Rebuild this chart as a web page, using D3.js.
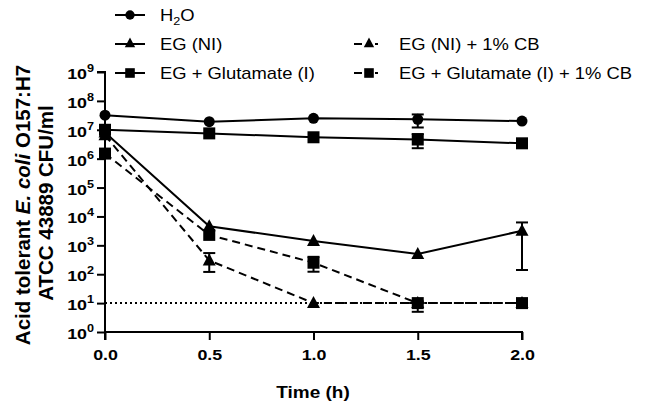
<!DOCTYPE html>
<html><head><meta charset="utf-8">
<script src="https://cdn.jsdelivr.net/npm/d3@7"></script>
<style>body{margin:0;background:#fff}svg{display:block}text{font-family:"Liberation Sans",Arial,sans-serif;fill:#000}</style>
</head><body>
<script>
const times = [0, 0.5, 1.0, 1.5, 2.0];
const yTickExps = [0,1,2,3,4,5,6,7,8,9];
const xTickLabels = ["0.0","0.5","1.0","1.5","2.0"];
const h2o      = [3.2e7, 1.9e7, 2.5e7, 2.3e7, 2.0e7];
const h2oErr   = [null, null, null, [1.2e7, 3.4e7], null];
const egNI     = [8e6, 4.6e3, 1.4e3, 500, 3.2e3];
const egNIErr  = [null, null, null, null, [140, 6.2e3]];
const egGlu    = [1.0e7, 7.5e6, 5.5e6, 4.6e6, 3.4e6];
const egGluErr = [null, null, null, [2.3e6, 7.1e6], null];
const egNICB   = [6.5e6, 300, 10, 10, 10];
const egNICBErr= [null, [120, 540], null, null, null];
const egGluCB  = [1.5e6, 2.3e3, 250, 10, 10];
const egGluCBErr=[null, null, [122, 400], [5, 11.5], null];
const detectionLimit = 10;

const series = [
  {name:"H2O", vals:h2o, err:h2oErr, shape:"circle", dash:null},
  {name:"EG + Glutamate (I)", vals:egGlu, err:egGluErr, shape:"square", dash:null},
  {name:"EG (NI)", vals:egNI, err:egNIErr, shape:"triangle", dash:null},
  {name:"EG (NI) + 1% CB", vals:egNICB, err:egNICBErr, shape:"triangle", dash:"8,5"},
  {name:"EG + Glutamate (I) + 1% CB", vals:egGluCB, err:egGluCBErr, shape:"square", dash:"8,5"}
];

const W=645,H=412, SX=1.15;
const svg=d3.select("body").append("svg").attr("width",W).attr("height",H);
const x=d3.scaleLinear().domain([0,2]).range([105,522]);
const y=d3.scaleLog().domain([1,1e9]).range([332,72]);

function stretchedText(parent,px,py,anchor,size,weight){
  return parent.append("g").attr("transform",`translate(${px},${py}) scale(${SX},1)`)
    .append("text").attr("x",0).attr("y",0).attr("text-anchor",anchor)
    .attr("font-size",size).attr("font-weight",weight||"normal");
}

function drawMarker(g,shape,cx,cy){
  if(shape==="circle") g.append("circle").attr("cx",cx).attr("cy",cy).attr("r",5.5).attr("fill","#000");
  else if(shape==="square") g.append("rect").attr("x",cx-6).attr("y",cy-6).attr("width",12).attr("height",12).attr("fill","#000");
  else g.append("path").attr("d",`M${cx},${cy-7}L${cx+6.5},${cy+5}L${cx-6.5},${cy+5}Z`).attr("fill","#000");
}

// detection limit dotted line
svg.append("line").attr("x1",x(0)).attr("x2",x(2)).attr("y1",y(detectionLimit)).attr("y2",y(detectionLimit))
  .attr("stroke","#000").attr("stroke-width",2).attr("stroke-dasharray","2,3");

const line=d3.line().x((d,i)=>x(times[i])).y(d=>y(d));
series.forEach(s=>{
  svg.append("path").attr("d",line(s.vals)).attr("fill","none").attr("stroke","#000").attr("stroke-width",2)
    .attr("stroke-dasharray",s.dash);
  s.err.forEach((e,i)=>{
    if(!e) return;
    const cx=x(times[i]);
    const g=svg.append("g").attr("stroke","#000").attr("stroke-width",2);
    g.append("line").attr("x1",cx).attr("x2",cx).attr("y1",y(e[0])).attr("y2",y(e[1]));
    g.append("line").attr("x1",cx-6).attr("x2",cx+6).attr("y1",y(e[0])).attr("y2",y(e[0]));
    g.append("line").attr("x1",cx-6).attr("x2",cx+6).attr("y1",y(e[1])).attr("y2",y(e[1]));
  });
  const mg=svg.append("g");
  s.vals.forEach((v,i)=>drawMarker(mg,s.shape,x(times[i]),y(v)));
});

// axes
const yAxis=d3.axisLeft(y).tickValues(yTickExps.map(e=>Math.pow(10,e))).tickSize(8).tickFormat("");
const ya=svg.append("g").attr("transform","translate(105,0)").call(yAxis);
ya.select(".domain").attr("stroke-width",2).attr("d","M-8,72H0V332");
ya.selectAll(".tick line").attr("stroke-width",2);
ya.selectAll(".tick").each(function(d,i){
  const t=stretchedText(d3.select(this),-11,6.5,"end",15.5,"bold");
  t.append("tspan").text("10");
  t.append("tspan").attr("dy",-7).attr("font-size",11).text(yTickExps[i]);
});
const xAxis=d3.axisBottom(x).tickValues(times).tickSize(8).tickFormat("");
const xa=svg.append("g").attr("transform","translate(0,332)").call(xAxis);
xa.select(".domain").attr("stroke-width",2).attr("d","M105,8V0H522V8");
xa.selectAll(".tick line").attr("stroke-width",2);
xa.selectAll(".tick").each(function(d,i){
  stretchedText(d3.select(this),0,28,"middle",15.5,"bold").text(xTickLabels[i]);
});

stretchedText(svg,313,398,"middle",16.5,"bold").text("Time (h)");

const yl=svg.append("text").attr("transform","translate(30,205) rotate(-90)").attr("text-anchor","middle")
  .attr("font-size",20.5).attr("font-weight","bold");
yl.append("tspan").text("Acid tolerant ");
yl.append("tspan").attr("font-style","italic").text("E. coli");
yl.append("tspan").text(" O157:H7");
svg.append("text").attr("transform","translate(53,203) rotate(-90)").attr("text-anchor","middle")
  .attr("font-size",20.5).attr("font-weight","bold").text("ATCC 43889 CFU/ml");

// legend
const legendItems=[
  {s:series[0], lx:115, tx:160, ly:15},
  {s:series[2], lx:115, tx:160, ly:44},
  {s:series[1], lx:115, tx:160, ly:73},
  {s:series[3], lx:354, tx:399, ly:44},
  {s:series[4], lx:354, tx:399, ly:73}
];
legendItems.forEach(it=>{
  const g=svg.append("g");
  if(it.s.dash){
    g.append("line").attr("x1",it.lx).attr("x2",it.lx+29).attr("y1",it.ly).attr("y2",it.ly)
      .attr("stroke","#000").attr("stroke-width",2).attr("stroke-dasharray","8,5,3,5,3,5");
  } else {
    g.append("line").attr("x1",it.lx).attr("x2",it.lx+30).attr("y1",it.ly).attr("y2",it.ly)
      .attr("stroke","#000").attr("stroke-width",2);
  }
  const ms=it.s.shape==="circle"?0.85:0.8;
  const mg=g.append("g").attr("transform",`translate(${it.lx+15},${it.ly}) scale(${ms})`);
  drawMarker(mg,it.s.shape,0,it.s.shape==="triangle"?-1:0);
  const t=stretchedText(g,it.tx,it.ly+6,"start",16);
  if(it.s.name==="H2O"){
    t.append("tspan").text("H");
    t.append("tspan").attr("dy",4).attr("font-size",11).text("2");
    t.append("tspan").attr("dy",-4).text("O");
  } else t.text(it.s.name);
});
</script>
</body></html>
